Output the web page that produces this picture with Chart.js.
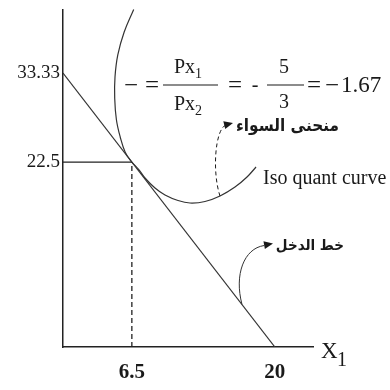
<!DOCTYPE html>
<html>
<head>
<meta charset="utf-8">
<script src="https://cdn.jsdelivr.net/npm/chart.js@4/dist/chart.umd.min.js"></script>
<style>
  html, body { margin: 0; padding: 0; background: #fff; }
  #c { display: block; }
</style>
</head>
<body>
<canvas id="c" width="390" height="390"></canvas>
<script>
// Budget (income) line: intercepts on both axes
const budgetX = [0, 20];
const budgetY = [33.33, 0];

// Point where the isoquant touches the budget line
const optimumX = [6.5];
const optimumY = [22.5];

// Isoquant, traced from its upper end, round the left side, to its right end
const isoX = [6.674, 5.768, 5.173, 4.909, 4.881, 5.041, 5.400, 5.872, 6.5, 7.137, 7.741,
              8.685, 9.629, 10.856, 11.989, 13.405, 14.821, 16.237, 17.370, 18.220];
const isoY = [41.07, 38.30, 35.54, 32.85, 30.26, 27.65, 25.55, 23.70, 22.5, 21.61, 20.56,
              19.34, 18.49, 17.82, 17.52, 17.70, 18.37, 19.46, 20.68, 21.90];

// Axis tick values and their labels
const xTickValues = [6.5, 20];
const xTickLabels = ['6.5', '20'];
const yTickValues = [22.5, 33.33];
const yTickLabels = ['22.5', '33.33'];

// Where the two curved pointers leave the curves (index on the isoquant, x on the budget line)
const isoPointerIndex = 16;
const budgetPointerX = 16.9;

const serif = '"Liberation Serif", "Times New Roman", serif';
const arabic = '"DejaVu Sans Condensed", "DejaVu Sans", sans-serif';
const ink = '#1a1a1a';

const pts = (xs, ys) => xs.map((x, i) => ({ x, y: ys[i] }));
const budgetAt = x => budgetY[0] + (budgetY[1] - budgetY[0]) * (x - budgetX[0]) / (budgetX[1] - budgetX[0]);

function arrowHead(ctx, fromX, fromY, tipX, tipY, len, half) {
  const a = Math.atan2(tipY - fromY, tipX - fromX);
  ctx.beginPath();
  ctx.moveTo(tipX, tipY);
  ctx.lineTo(tipX - len * Math.cos(a) + half * Math.sin(a), tipY - len * Math.sin(a) - half * Math.cos(a));
  ctx.lineTo(tipX - len * Math.cos(a) - half * Math.sin(a), tipY - len * Math.sin(a) + half * Math.cos(a));
  ctx.closePath();
  ctx.fill();
}

function text(ctx, str, x, y, font, align) {
  ctx.font = font;
  ctx.textAlign = align || 'left';
  ctx.textBaseline = 'alphabetic';
  ctx.fillText(str, x, y);
}

// Annotations: slope equation, curve names and their pointers, axis name
const annotations = {
  id: 'annotations',
  afterDatasetsDraw(chart) {
    const ctx = chart.ctx;
    const xs = chart.scales.x, ys = chart.scales.y;
    ctx.save();
    ctx.fillStyle = ink;
    ctx.strokeStyle = ink;

    // pointer from the isoquant up to its name
    const sx = xs.getPixelForValue(isoX[isoPointerIndex]);
    const sy = ys.getPixelForValue(isoY[isoPointerIndex]);
    ctx.lineWidth = 1;
    ctx.setLineDash([4, 3]);
    ctx.beginPath();
    ctx.moveTo(sx, sy);
    ctx.bezierCurveTo(sx - 8, sy - 24, sx - 5, sy - 67, sx + 6, sy - 71);
    ctx.stroke();
    ctx.setLineDash([]);
    arrowHead(ctx, sx + 1, sy - 70, sx + 13, sy - 73, 9, 4);

    // pointer from the budget line to its name
    const bx = xs.getPixelForValue(budgetPointerX);
    const by = ys.getPixelForValue(budgetAt(budgetPointerX));
    ctx.strokeStyle = '#333';
    ctx.beginPath();
    ctx.moveTo(bx, by);
    ctx.bezierCurveTo(bx - 8, by - 30, bx + 2, by - 56, bx + 22, by - 59);
    ctx.stroke();
    arrowHead(ctx, bx + 14, by - 58, bx + 31, by - 61, 9, 4);
    ctx.strokeStyle = ink;

    // slope equation
    const f20 = '20px ' + serif;
    const fSym = '25px ' + serif;
    const fSub = '14px ' + serif;
    const midY = 85;
    ctx.lineWidth = 1.2;
    text(ctx, '\u2212', 131, 93, fSym, 'center');
    text(ctx, '=', 152, 93, fSym, 'center');
    ctx.beginPath(); ctx.moveTo(163, midY); ctx.lineTo(218, midY); ctx.stroke();
    text(ctx, 'Px', 174, 73, f20);
    text(ctx, '1', 195, 78, fSub);
    text(ctx, 'Px', 174, 110, f20);
    text(ctx, '2', 195, 115, fSub);
    text(ctx, '=', 235, 93, fSym, 'center');
    text(ctx, '-', 255, 91, f20, 'center');
    ctx.beginPath(); ctx.moveTo(267, midY); ctx.lineTo(304, midY); ctx.stroke();
    text(ctx, '5', 284, 73, f20, 'center');
    text(ctx, '3', 284, 108, f20, 'center');
    text(ctx, '=', 314, 93, fSym, 'center');
    text(ctx, '\u2212', 332, 93, fSym, 'center');
    text(ctx, '1.67', 341, 92, '23px ' + serif);

    // curve names
    ctx.direction = 'rtl';
    text(ctx, 'منحنى السواء', 339, 131, 'bold 17px ' + arabic, 'right');
    text(ctx, 'خط الدخل', 344, 250, 'bold 15px ' + arabic, 'right');
    ctx.direction = 'ltr';
    text(ctx, 'Iso quant curve', 263, 184, '20px ' + serif);

    // axis name
    text(ctx, 'X', 321, 358, '23px ' + serif);
    text(ctx, '1', 337, 366, '20px ' + serif);

    ctx.restore();
  }
};

new Chart(document.getElementById('c'), {
  type: 'scatter',
  data: {
    datasets: [
      {
        label: 'Budget line',
        data: pts(budgetX, budgetY),
        showLine: true,
        borderColor: '#333',
        borderWidth: 1.2,
        pointRadius: 0
      },
      {
        label: 'Isoquant',
        data: pts(isoX, isoY),
        showLine: true,
        tension: 0.4,
        borderColor: '#333',
        borderWidth: 1.2,
        pointRadius: 0,
        clip: false
      },
      {
        label: 'Level of X2',
        data: [{ x: 0, y: optimumY[0] }, { x: optimumX[0], y: optimumY[0] }],
        showLine: true,
        borderColor: '#222',
        borderWidth: 1.3,
        pointRadius: 0
      },
      {
        label: 'Level of X1',
        data: [{ x: optimumX[0], y: 0 }, { x: optimumX[0], y: optimumY[0] }],
        showLine: true,
        borderColor: '#222',
        borderWidth: 1.3,
        borderDash: [5, 3],
        pointRadius: 0
      }
    ]
  },
  options: {
    responsive: false,
    devicePixelRatio: 1,
    animation: false,
    events: [],
    layout: { padding: { top: 10, right: 77, bottom: 0, left: 0 } },
    plugins: { legend: { display: false }, tooltip: { enabled: false } },
    scales: {
      x: {
        type: 'linear',
        min: 0,
        max: 23.6,
        grid: { display: false, drawTicks: false },
        border: { color: '#222', width: 1.5 },
        afterBuildTicks: s => { s.ticks = xTickValues.map(v => ({ value: v })); },
        afterFit: s => { s.height = 43; s.paddingLeft = 0; s.paddingRight = 0; },
        ticks: {
          autoSkip: false,
          maxRotation: 0,
          padding: 13,
          color: ink,
          font: { family: serif, size: 21, weight: 'bold' },
          callback: v => xTickLabels[xTickValues.indexOf(v)]
        }
      },
      y: {
        type: 'linear',
        min: 0,
        max: 41,
        grid: { display: false, drawTicks: false },
        border: { color: '#222', width: 1.5 },
        afterBuildTicks: s => { s.ticks = yTickValues.map(v => ({ value: v })); },
        afterFit: s => { s.width = 63; s.paddingTop = 0; s.paddingBottom = 0; },
        ticks: {
          autoSkip: false,
          padding: 3,
          color: ink,
          font: { family: serif, size: 19 },
          callback: v => yTickLabels[yTickValues.indexOf(v)]
        }
      }
    }
  },
  plugins: [annotations]
});
</script>
</body>
</html>
